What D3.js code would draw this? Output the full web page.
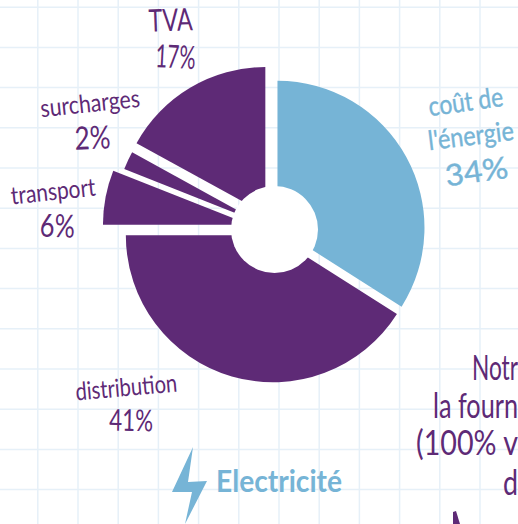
<!DOCTYPE html>
<html>
<head>
<meta charset="utf-8">
<script src="https://d3js.org/d3.v7.min.js"></script>
<style>
    html, body { margin: 0; padding: 0; background: #fff; overflow: hidden; }
    text { font-family: 'Lato', 'Open Sans', sans-serif; }
</style>
</head>
<body>
<div id="chart-area"></div>
<script>
const categories = ["l'énergie", 'distribution', 'transport', 'surcharges', 'TVA'];
const shares = [34, 41, 6, 2, 17];
const pulls = [3.4, 6, 25, 15, 18];
const sideNote = ['Notr', 'la fourn', '(100% v', 'd'];

const purple = '#5e2a76';
const blue = '#76b4d6';
const sliceColors = [blue, purple, purple, purple, purple];

const width = 518;
const height = 524;
const center = {x: 274.5, y: 229.5};
const outerRadius = 147;
const holeRadius = 43.5;
const gridStep = 40.2;

const svg = d3.select('#chart-area')
    .append('svg')
    .attr('width', width)
    .attr('height', height)
    .style('display', 'block');

// squared paper
const grid = svg.append('g')
    .attr('stroke', '#e6f0f8')
    .attr('stroke-width', 1.5);

grid.selectAll('line.v')
    .data(d3.range(37.8, width, gridStep))
    .enter()
    .append('line')
        .attr('class', 'v')
        .attr('x1', d => d)
        .attr('x2', d => d)
        .attr('y1', 0)
        .attr('y2', height);

grid.selectAll('line.h')
    .data(d3.range(7.2, height, gridStep))
    .enter()
    .append('line')
        .attr('class', 'h')
        .attr('x1', 0)
        .attr('x2', width)
        .attr('y1', d => d)
        .attr('y2', d => d);

const pie = d3.pie().sort(null)(shares);
const arc = d3.arc().innerRadius(0).outerRadius(outerRadius);

const g = svg.append('g')
    .attr('transform', `translate(${center.x}, ${center.y})`);

g.selectAll('path')
    .data(pie)
    .enter()
    .append('path')
        .attr('d', arc)
        .attr('fill', (d, i) => sliceColors[i])
        .attr('transform', (d, i) => {
            const mid = (d.startAngle + d.endAngle) / 2;
            return `translate(${Math.sin(mid) * pulls[i]}, ${-Math.cos(mid) * pulls[i]})`;
        });

g.append('circle')
    .attr('r', holeRadius)
    .attr('fill', '#fff');

// hand placed labels, len is the width the text takes in the picture
const labels = [
    {t: categories[4], x: 171, y: 31, r: -2, s: 31, len: 44, c: purple},
    {t: `${shares[4]}%`, x: 175, y: 68, r: 3, s: 32, len: 40, c: purple},
    {t: categories[3], x: 91, y: 112, r: -6, s: 25, len: 100, c: purple},
    {t: `${shares[3]}%`, x: 93, y: 149, r: -2, s: 32, len: 36, c: purple},
    {t: categories[2], x: 54, y: 200, r: -6, s: 25, len: 85, c: purple},
    {t: `${shares[2]}%`, x: 57, y: 237, r: 2, s: 32, len: 35, c: purple},
    {t: categories[1], x: 127, y: 396, r: -5, s: 25, len: 102, c: purple},
    {t: `${shares[1]}%`, x: 131, y: 431, r: 1, s: 30, len: 44, c: purple},
    {t: 'coût de', x: 467, y: 111, r: -8, s: 27, len: 75, c: blue},
    {t: categories[0], x: 472, y: 145, r: -7, s: 27, len: 86, c: blue},
    {t: `${shares[0]}%`, x: 478, y: 182, r: -8, s: 30, len: 63, c: blue},
    {t: sideNote[0], x: 495, y: 380, r: 0, s: 34, len: 46, c: purple},
    {t: sideNote[1], x: 475.5, y: 418, r: 0, s: 34, len: 85, c: purple},
    {t: sideNote[2], x: 467, y: 455, r: 0, s: 34, len: 102, c: purple},
    {t: sideNote[3], x: 510.5, y: 495, r: 0, s: 34, len: 15, c: purple}
];

svg.selectAll('text.label')
    .data(labels)
    .enter()
    .append('text')
        .attr('class', 'label')
        .attr('text-anchor', 'middle')
        .attr('font-size', d => d.s)
        .attr('fill', d => d.c)
        .attr('stroke', d => d.c === blue ? blue : 'none')
        .attr('stroke-width', 0.4)
        .attr('textLength', d => d.len)
        .attr('lengthAdjust', 'spacingAndGlyphs')
        .attr('transform', d => `translate(${d.x}, ${d.y}) rotate(${d.r})`)
        .text(d => d.t);

svg.append('text')
    .attr('x', 216)
    .attr('y', 492)
    .attr('font-size', 31)
    .attr('font-weight', 700)
    .attr('fill', blue)
    .attr('textLength', 126)
    .attr('lengthAdjust', 'spacingAndGlyphs')
    .text('Electricité');

// lightning bolt
svg.append('path')
    .attr('d', 'M193,447 L172,492 L192,492 L185,524 L207,481 L188,482 Z')
    .attr('fill', blue);

// tip of the purple mark at the bottom
svg.append('path')
    .attr('d', 'M453,524 L453,512 L456,511 L460,524 Z')
    .attr('fill', purple);
</script>
</body>
</html>
